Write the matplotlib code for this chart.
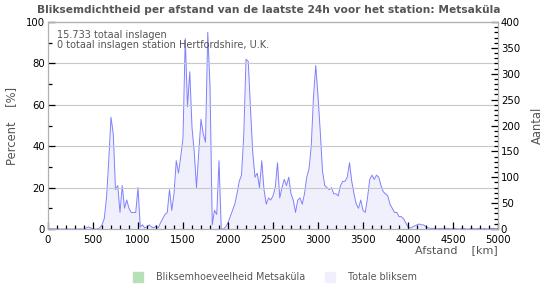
import numpy as np
import matplotlib
matplotlib.use("Agg")
import matplotlib.pyplot as plt
from matplotlib.patches import Rectangle

# afstand in km (stappen van 25 km) en totale bliksem in procent, 20 waarden per 500 km
afstand = np.arange(0, 5001, 25)
totaal = (
    [0] * 17 + [0.5, 1, 0.5]
    + [0, 0, 0, 0.5, 2, 5, 15, 33, 54, 46, 19, 21, 8, 21, 10, 14, 10, 8, 8, 8]
    + [20, 1, 2, 0.5, 1, 2, 1, 0.5, 1.5, 0.5, 3, 5, 7, 8, 19, 9, 17, 33, 27, 35]
    + [44, 92, 59, 76, 49, 37, 20, 37, 53, 46, 42, 95, 69, 2, 9, 7, 33, 0, 0, 1]
    + [3, 6, 9, 12, 17, 23, 26, 45, 82, 81, 58, 37, 25, 27, 20, 33, 19, 12, 15, 14]
    + [16, 20, 32, 15, 20, 24, 21, 25, 17, 14, 8, 14, 15, 12, 17, 25, 29, 40, 64, 79]
    + [64, 47, 28, 21, 20, 19, 20, 17, 17, 16, 21, 23, 23, 25, 32, 23, 17, 12, 10, 14]
    + [9, 8, 15, 24, 26, 24, 26, 25, 21, 18, 17, 16, 12, 10, 8, 8, 6, 6, 5, 3]
    + [1, 0.5, 1, 1.5, 2, 2.4, 2, 2, 1, 0.5, 0.3, 0.3, 0.3, 0, 0.3, 0.3, 0, 0.3, 0.3, 0]
    + [0.3, 0.3, 0, 0, 0.3, 0.3, 0, 0, 0.3, 0.3, 0, 0.3, 0.3, 0, 0.3, 0, 0, 0.3, 0.3, 0]
    + [0.3]
)
station = [0] * len(afstand)

titel = "Bliksemdichtheid per afstand van de laatste 24h voor het station: Metsaküla"
info = ["15.733 totaal inslagen", "0 totaal inslagen station Hertfordshire, U.K."]
legenda = ["Bliksemhoeveelheid Metsaküla", "Totale bliksem"]

grijs = "#555555"
plt.rcParams["font.family"] = "DejaVu Sans"

fig = plt.figure(figsize=(5.5, 3.0), dpi=100)
ax = fig.add_axes([48 / 550, 1 - 229 / 300, 450 / 550, 207 / 300])
ax2 = ax.twinx()

ax.fill_between(afstand, totaal, color="#f0f0fc", lw=0, zorder=1)
ax.plot(afstand, totaal, color="#8080ff", lw=0.7, zorder=2)
ax.fill_between(afstand, station, color="#b8e0b8", lw=0, zorder=2)

ax.set_xlim(0, 5000)
ax.set_ylim(0, 100)
ax2.set_ylim(0, 400)

ax.set_xticks(np.arange(0, 5001, 500))
ax.set_xticks(np.arange(0, 5001, 100), minor=True)
ax.set_yticks(np.arange(0, 101, 20))
ax.set_yticks(np.arange(0, 101, 10), minor=True)
ax2.set_yticks(np.arange(0, 401, 50))
ax2.set_yticks(np.arange(0, 401, 10), minor=True)

ax.grid(axis="y", which="major", color="#c8c8c8", lw=0.8)
ax.set_axisbelow(False)

for a in (ax, ax2):
    for s in a.spines.values():
        s.set_color("#b0b0b0")
        s.set_linewidth(0.8)
    a.tick_params(which="both", direction="in", labelsize=7.3, colors="black", pad=2)
    a.tick_params(which="major", length=5, width=0.9)
    a.tick_params(which="minor", length=3, width=0.9)
ax.tick_params(axis="x", pad=4)

ax.set_ylabel("Percent    [%]", color=grijs, fontsize=8.3, labelpad=6)
ax2.set_ylabel("Aantal", color=grijs, fontsize=8.3, labelpad=8)
fig.text(498 / 550, 1 - 250 / 300, "Afstand    [km]", color=grijs, fontsize=8,
         ha="right", va="center")

fig.text(269 / 550, 1 - 10 / 300, titel, color=grijs, fontsize=7.7, fontweight="bold",
         ha="center", va="center")
for i, t in enumerate(info):
    fig.text(57 / 550, 1 - 35 / 300 - i * 10 / 300, t,
             color=grijs, fontsize=7.0, ha="left", va="center")

kleuren = ["#b8e0b8", "#f0f0fc"]
posities = [133, 325]
for k, x, t in zip(kleuren, posities, legenda):
    fig.patches.append(Rectangle((x / 550, 1 - 282 / 300), 10 / 550, 10 / 300,
                                 transform=fig.transFigure, color=k, zorder=5))
    fig.text((x + 23) / 550, 1 - 277 / 300, t, color=grijs, fontsize=6.9,
             ha="left", va="center")

fig.savefig("out.png", dpi=100)
